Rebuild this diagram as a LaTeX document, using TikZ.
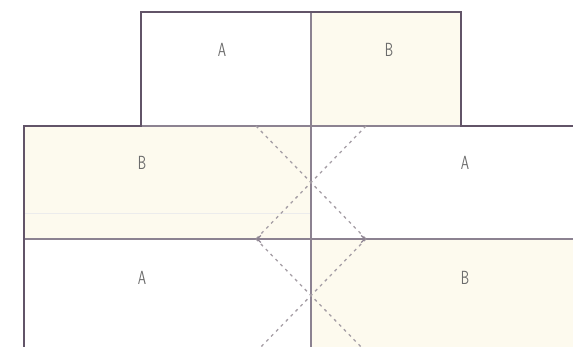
\documentclass[tikz,border=0pt]{standalone}
\usepackage{tikz}
\usetikzlibrary{arrows.meta}
\definecolor{plotpen}{RGB}{98,84,104}
\definecolor{seampen}{RGB}{140,130,145}
\definecolor{foldpen}{RGB}{165,158,165}
\definecolor{bcream}{RGB}{253,250,238}

\begin{document}
\begin{tikzpicture}[x=1pt,y=1pt,yscale=-1,xscale=1,
  outline/.style={draw=plotpen, line width=2.8, line join=miter},
  seam/.style={draw=seampen, line width=1.2},
  fold/.style={draw=foldpen, line width=1.3, dash pattern={on 3 off 4}},
  bside/.style={fill=bcream},
  lbl/.style={text=gray!85!black, font=\sffamily\fontsize{19}{19}\selectfont, xscale=0.7}]
\useasboundingbox (0,0) rectangle (573,347);
\clip (0,0) rectangle (573,347);
% B faces
\fill [bside] (311,12) rectangle (461,126);
\fill [bside] (24,126) rectangle (311,239);
\fill [bside] (311,239) rectangle (580,350);
% faint line in left face
\draw [draw=gray!15, line width=0.6] (24,213) -- (311,213);
% seams
\draw [seam] (311,12) -- (311,350);
\draw [seam] (24,126) -- (580,126);
\draw [seam] (24,239) -- (580,239);
% fold diagonals
\coordinate (ul) at (256,126);
\coordinate (ur) at (366,126);
\coordinate (ml) at (256,239);
\coordinate (mr) at (366,239);
\coordinate (bl) at (256,352);
\coordinate (br) at (366,352);
\draw [fold] (ul) -- (mr);
\draw [fold] (ur) -- (ml);
\draw [fold] (ml) -- (br);
\draw [fold] (mr) -- (bl);
\draw [seam, -{Straight Barb[length=4pt,width=7pt]}] (300,239) -- (ml);
\draw [seam, -{Straight Barb[length=4pt,width=7pt]}] (322,239) -- (mr);
% outline
\draw [outline] (24,350) -- (24,126) -- (141,126) -- (141,12) -- (461,12) -- (461,126) -- (580,126);
% labels
\node [lbl] (a1) at (222,50) {A};
\node [lbl] (b1) at (389,50) {B};
\node [lbl] (b2) at (142,163) {B};
\node [lbl] (a2) at (465,163) {A};
\node [lbl] (a3) at (142,278) {A};
\node [lbl] (b3) at (465,278) {B};
\end{tikzpicture}
\end{document}
